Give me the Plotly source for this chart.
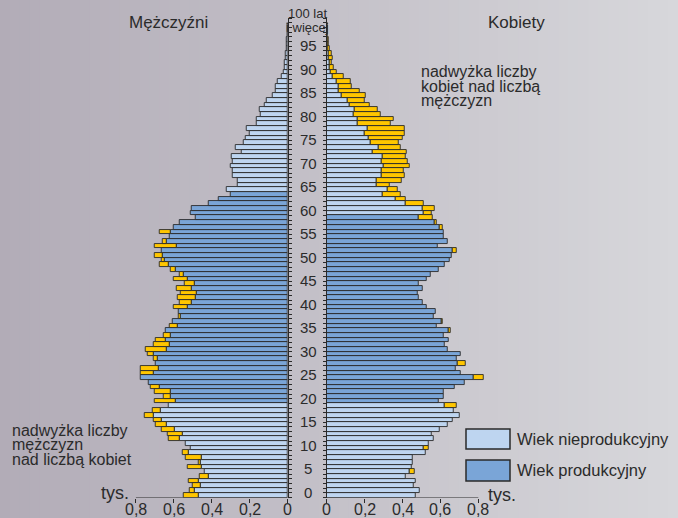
import plotly.graph_objects as go

# ---------------- data (thousands of people) ----------------
ages = list(range(101))  # 0 ... 100 (100 = "100 lat i więcej")

men = [0.550, 0.515, 0.500, 0.520, 0.465, 0.437, 0.525, 0.467, 0.539, 0.553,
       0.512, 0.538, 0.626, 0.632, 0.663, 0.693, 0.707, 0.754, 0.712, 0.624,
       0.700, 0.654, 0.700, 0.719, 0.730, 0.776, 0.772, 0.772, 0.693, 0.707,
       0.737, 0.747, 0.707, 0.693, 0.654, 0.644, 0.623, 0.605, 0.575, 0.573,
       0.602, 0.570, 0.581, 0.561, 0.584, 0.544, 0.602, 0.570, 0.614, 0.672,
       0.663, 0.698, 0.663, 0.702, 0.660, 0.620, 0.675, 0.598, 0.570, 0.484,
       0.510, 0.507, 0.416, 0.365, 0.298, 0.321, 0.263, 0.265, 0.289, 0.291,
       0.300, 0.289, 0.293, 0.242, 0.272, 0.230, 0.221, 0.202, 0.216, 0.163,
       0.165, 0.144, 0.147, 0.121, 0.109, 0.079, 0.065, 0.062, 0.053, 0.034,
       0.022, 0.018, 0.014, 0.010, 0.012, 0.006, 0.004, 0.003, 0.002, 0.001,
       0.002]

women = [0.468, 0.489, 0.460, 0.468, 0.415, 0.466, 0.451, 0.456, 0.454, 0.520,
         0.540, 0.538, 0.567, 0.553, 0.594, 0.638, 0.663, 0.703, 0.670, 0.686,
         0.591, 0.617, 0.615, 0.673, 0.730, 0.826, 0.705, 0.680, 0.731, 0.685,
         0.707, 0.636, 0.623, 0.643, 0.617, 0.652, 0.579, 0.613, 0.564, 0.573,
         0.527, 0.505, 0.484, 0.478, 0.505, 0.487, 0.527, 0.547, 0.589, 0.624,
         0.649, 0.659, 0.686, 0.585, 0.638, 0.620, 0.618, 0.612, 0.580, 0.557,
         0.554, 0.568, 0.510, 0.415, 0.390, 0.375, 0.330, 0.397, 0.413, 0.404,
         0.437, 0.428, 0.416, 0.420, 0.392, 0.379, 0.400, 0.410, 0.409, 0.340,
         0.353, 0.287, 0.270, 0.229, 0.199, 0.208, 0.173, 0.132, 0.127, 0.090,
         0.053, 0.039, 0.026, 0.030, 0.026, 0.015, 0.010, 0.008, 0.005, 0.004,
         0.006]

work_age_start = 20
men_work_age_end = 64
women_work_age_end = 59

age_tick_labels = [0, 5, 10, 15, 20, 25, 30, 35, 40, 45, 50, 55, 60, 65, 70, 75, 80, 85, 90, 95]
x_tick_values = [0, 0.2, 0.4, 0.6, 0.8]
x_tick_texts = ["0", "0,2", "0,4", "0,6", "0,8"]

# ---------------- styling ----------------
W, H = 678, 518
LIGHT = "#bed5f0"
DARK = "#7aa5d7"
YELLOW = "#ffc600"
EDGE = "#2a2a2a"
TXT = "#2b2b2b"
FONT = "Liberation Sans, Arial, sans-serif"
LABEL_SHIFT = 0.6   # age labels sit slightly above the bar centres in the source

def px_x(p):
    return p / W

def px_y(p):
    return 1 - p / H

common = [min(m, w) for m, w in zip(men, women)]
men_colors = [DARK if work_age_start <= a <= men_work_age_end else LIGHT for a in ages]
women_colors = [DARK if work_age_start <= a <= women_work_age_end else LIGHT for a in ages]

men_sur_y = [a for a, m, w in zip(ages, men, women) if m > w]
men_sur_x = [m - w for m, w in zip(men, women) if m > w]
men_sur_base = [w for m, w in zip(men, women) if m > w]
wom_sur_y = [a for a, m, w in zip(ages, men, women) if w > m]
wom_sur_x = [w - m for m, w in zip(men, women) if w > m]
wom_sur_base = [m for m, w in zip(men, women) if w > m]

fig = go.Figure()
line = dict(color=EDGE, width=0.9)
fig.add_trace(go.Bar(x=common, y=ages, base=0, orientation="h", width=1,
                     marker=dict(color=men_colors, line=line),
                     xaxis="x", yaxis="y", showlegend=False, name="Mężczyźni"))
fig.add_trace(go.Bar(x=men_sur_x, y=men_sur_y, base=men_sur_base, orientation="h", width=1,
                     marker=dict(color=YELLOW, line=line),
                     xaxis="x", yaxis="y", showlegend=False, name="nadwyżka mężczyzn"))
fig.add_trace(go.Bar(x=common, y=ages, base=0, orientation="h", width=1,
                     marker=dict(color=women_colors, line=line),
                     xaxis="x2", yaxis="y2", showlegend=False, name="Kobiety"))
fig.add_trace(go.Bar(x=wom_sur_x, y=wom_sur_y, base=wom_sur_base, orientation="h", width=1,
                     marker=dict(color=YELLOW, line=line),
                     xaxis="x2", yaxis="y2", showlegend=False, name="nadwyżka kobiet"))

# background gradient
shapes = []
n_strips = 68
c0 = (178, 172, 183)
c1 = (215, 215, 219)
for i in range(n_strips):
    t = i / (n_strips - 1)
    c = tuple(int(round(c0[k] + (c1[k] - c0[k]) * t)) for k in range(3))
    shapes.append(dict(type="rect", xref="paper", yref="paper",
                       x0=i / n_strips, x1=(i + 1) / n_strips + 0.002, y0=0, y1=1,
                       fillcolor="rgb(%d,%d,%d)" % c, line=dict(width=0), layer="below"))

# bottom axis lines (0 .. 0.8)
y_bottom = -0.5
shapes.append(dict(type="line", xref="x", yref="y", x0=0, x1=0.8, y0=y_bottom, y1=y_bottom,
                   line=dict(color=EDGE, width=1.2)))
shapes.append(dict(type="line", xref="x2", yref="y2", x0=0, x1=0.8, y0=y_bottom, y1=y_bottom,
                   line=dict(color=EDGE, width=1.2)))

# legend boxes
shapes.append(dict(type="rect", xref="paper", yref="paper",
                   x0=px_x(466), x1=px_x(510), y0=px_y(449), y1=px_y(429),
                   fillcolor=LIGHT, line=dict(color=EDGE, width=1.5)))
shapes.append(dict(type="rect", xref="paper", yref="paper",
                   x0=px_x(466), x1=px_x(510), y0=px_y(481), y1=px_y(460),
                   fillcolor=DARK, line=dict(color=EDGE, width=1.5)))

ann = []
def text(x, y, s, size, xanchor="left", yanchor="middle"):
    ann.append(dict(x=px_x(x), y=px_y(y), xref="paper", yref="paper", text=s,
                    showarrow=False, xanchor=xanchor, yanchor=yanchor,
                    font=dict(size=size, color=TXT, family=FONT)))

# age labels between the two halves
for a in age_tick_labels:
    ann.append(dict(x=px_x(308), y=a + LABEL_SHIFT, xref="paper", yref="y", text=str(a),
                    showarrow=False, xanchor="center", yanchor="middle",
                    font=dict(size=15, color=TXT, family=FONT)))

# value labels under both x axes
for xref in ("x", "x2"):
    for v, s in zip(x_tick_values, x_tick_texts):
        ann.append(dict(x=v, y=px_y(509), xref=xref, yref="paper", text=s,
                        showarrow=False, xanchor="center", yanchor="middle",
                        font=dict(size=16, color=TXT, family=FONT)))

text(168, 22, "Mężczyźni", 17, "center")
text(516, 22, "Kobiety", 17, "center")
text(307, 14, "100 lat", 13, "center")
text(307, 27, "i więcej", 13, "center")
text(419, 72, "nadwyżka liczby", 16)
text(419, 86, "kobiet nad liczbą", 16)
text(419, 100, "mężczyzn", 16)
text(10, 430, "nadwyżka liczby", 16)
text(10, 444, "mężczyzn", 16)
text(10, 459, "nad liczbą kobiet", 16)
text(115, 493, "tys.", 18, "center")
text(502, 495, "tys.", 18, "center")
text(515, 439, "Wiek nieprodukcyjny", 16.5)
text(515, 470, "Wiek produkcyjny", 16.5)

y_dom = [px_y(497.5), px_y(18)]
y_range = [-0.5, 101.5]
left_dom = [px_x(135.7), px_x(287.7)]
right_max = 0.84
right_dom = [px_x(326.7), px_x(326.7 + 189.5 * right_max)]

xcommon = dict(tickvals=x_tick_values, ticks="outside", ticklen=4,
               tickcolor=EDGE, tickwidth=1, showgrid=False, zeroline=False, showline=False,
               showticklabels=False, automargin=False, anchor="free", position=y_dom[0])
ycommon = dict(range=y_range, domain=y_dom, showgrid=False, zeroline=False, showline=True,
               automargin=False,
               linecolor=EDGE, linewidth=1.2, ticks="outside", ticklen=3, tickcolor=EDGE,
               tick0=0.5, dtick=1, showticklabels=False)

fig.update_layout(
    width=W, height=H, autosize=False, margin=dict(l=0, r=0, t=0, b=0, pad=0),
    paper_bgcolor="#c6c4ca", plot_bgcolor="rgba(0,0,0,0)",
    barmode="overlay", bargap=0, showlegend=False,
    font=dict(family=FONT, color=TXT),
    xaxis=dict(domain=left_dom, range=[0.8, 0], **xcommon),
    xaxis2=dict(domain=right_dom, range=[0, right_max], **xcommon),
    yaxis=dict(anchor="x", side="right", **ycommon),
    yaxis2=dict(anchor="x2", side="left", matches="y", **ycommon),
    shapes=shapes, annotations=ann,
)

fig.write_html(
    "out.html",
    config={"responsive": False, "displayModeBar": False},
    post_script="document.body.style.margin='0';document.body.style.padding='0';"
                "document.documentElement.style.overflow='hidden';",
)
